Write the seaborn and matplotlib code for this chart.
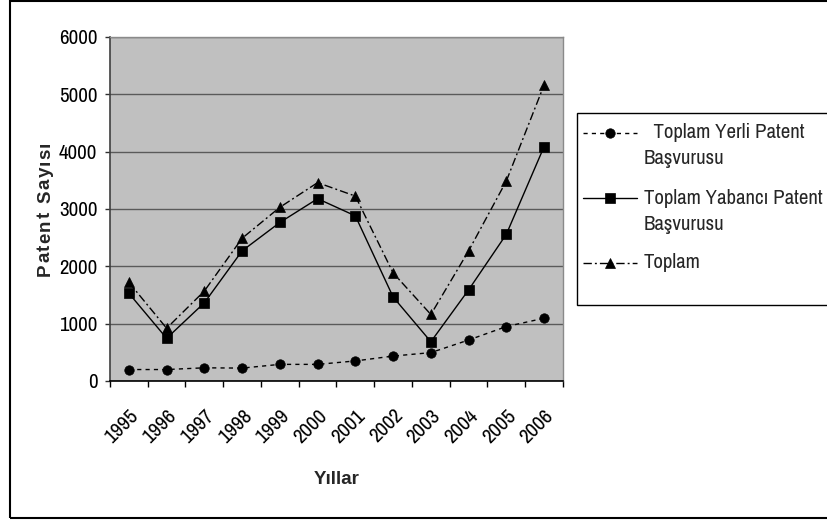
import matplotlib
matplotlib.use("Agg")
import numpy as np
import pandas as pd
import seaborn as sns
import matplotlib.pyplot as plt
from matplotlib import font_manager
from matplotlib.lines import Line2D
from matplotlib.patches import Rectangle

# Patent applications per year
years = ["1995", "1996", "1997", "1998", "1999", "2000",
         "2001", "2002", "2003", "2004", "2005", "2006"]
yerli = [200, 200, 230, 225, 290, 290, 350, 435, 495, 715, 950, 1095]
yabanci = [1530, 745, 1365, 2270, 2765, 3180, 2880, 1465, 685, 1590, 2560, 4090]
toplam = [1720, 920, 1570, 2490, 3030, 3460, 3225, 1885, 1160, 2270, 3490, 5165]

legend_lines = [["  Toplam Yerli Patent", "Başvurusu"],
                ["Toplam Yabancı Patent", "Başvurusu"],
                ["Toplam"]]
y_ticks = [0, 1000, 2000, 3000, 4000, 5000, 6000]

sns.set_theme(style="white")


def pick_narrow_font():
    """Return (family, stretch) of an installed narrow sans face, if any."""
    for f in font_manager.fontManager.ttflist:
        if "narrow" in f.name.lower():
            return f.name, "normal"
    for f in font_manager.fontManager.ttflist:
        st = str(f.stretch).lower()
        if "condensed" in st and ("liberation" in f.name.lower() or "dejavu" in f.name.lower()
                                  or "noto" in f.name.lower()):
            return f.name, f.stretch
    return None, None


narrow_name, narrow_stretch = pick_narrow_font()
if narrow_name:
    FONT, STRETCH, SCALE = narrow_name, narrow_stretch, 1.0
else:
    FONT, STRETCH, SCALE = "Liberation Sans", "normal", 0.84
plt.rcParams["font.family"] = [FONT, "DejaVu Sans"]
plt.rcParams["font.stretch"] = STRETCH

# bold titles use the regular-width face
BOLD_FAMILY = ["Liberation Sans", "DejaVu Sans"]
BOLD_SIZE = 13.5

W, H = 827, 520
fig = plt.figure(figsize=(W / 100, H / 100), dpi=100)
fig.patch.set_facecolor("white")


def fx(px):
    return px / W


def fy(py):
    return 1 - py / H


# plot area in pixel coordinates
L, R, T, B = 110, 563, 37, 381
ax = fig.add_axes([fx(L), fy(B), fx(R - L), (B - T) / H])
ax.set_facecolor("#C0C0C0")

pos = np.arange(len(years))
df = pd.DataFrame({"pos": pos, "yerli": yerli, "yabanci": yabanci, "toplam": toplam})

DOTTED = (0, (3, 3))
DASHDOT = (0, (6, 2.2, 1.4, 2.2))
line_kw = dict(color="black", lw=1.0, markeredgecolor="black", markeredgewidth=0.5)
sns.lineplot(data=df, x="pos", y="yerli", ax=ax, marker="o", markersize=6.8,
             linestyle=DOTTED, **line_kw)
sns.lineplot(data=df, x="pos", y="yabanci", ax=ax, marker="s", markersize=6.5,
             **line_kw)
sns.lineplot(data=df, x="pos", y="toplam", ax=ax, marker="^", markersize=7.5,
             linestyle=DASHDOT, **line_kw)

ax.set_xlim(-0.5, len(years) - 0.5)
ax.set_ylim(0, 6000)

TS = 15 * SCALE
# y axis
ax.set_yticks(y_ticks)
ax.set_yticklabels([str(v) for v in y_ticks], fontsize=TS, color="black")
ax.tick_params(axis="y", direction="out", length=3.6, width=1.0, color="#303030",
               pad=5.5, left=True)
ax.yaxis.grid(True, color="#5a5a5a", lw=1.0)
ax.xaxis.grid(False)

# x axis: labels at category centres, tick marks at boundaries
ax.set_xticks(pos)
ax.set_xticklabels(years, rotation=45, ha="right", va="top",
                   rotation_mode="anchor", fontsize=TS, color="black")
ax.tick_params(axis="x", which="major", length=0, pad=18)
ax.set_xticks(np.arange(-0.5, len(years), 1.0), minor=True)
ax.tick_params(axis="x", which="minor", direction="out", length=4.5, width=1.0,
               color="black", bottom=True)

ax.set_xlabel("")
ax.set_ylabel("")
for side in ["top", "right"]:
    ax.spines[side].set_color("#8a8a8a")
    ax.spines[side].set_linewidth(1.0)
ax.spines["left"].set_color("#404040")
ax.spines["left"].set_linewidth(1.2)
ax.spines["bottom"].set_color("black")
ax.spines["bottom"].set_linewidth(1.2)
ax.set_axisbelow(True)

# axis titles
fig.text(fx(337), fy(480), "Yıllar", ha="center", va="center",
         fontsize=BOLD_SIZE, fontweight="bold", family=BOLD_FAMILY)

ylab = "Patent Sayısı"
renderer = fig.canvas.get_renderer()
widths = []
for ch in ylab:
    t = fig.text(0, 0, ch, fontsize=BOLD_SIZE, fontweight="bold", family=BOLD_FAMILY)
    widths.append(t.get_window_extent(renderer).width)
    t.remove()
span = 135.0
gap = max(0.0, (span - sum(widths)) / (len(ylab) - 1))
ycur = (T + B) / 2 + span / 2  # bottom of label (pixels from top)
for ch, w in zip(ylab, widths):
    cy = ycur - w / 2
    fig.text(fx(50), fy(cy), ch, rotation=90, rotation_mode="anchor",
             ha="center", va="baseline", fontsize=BOLD_SIZE, fontweight="bold",
             family=BOLD_FAMILY)
    ycur -= w + gap

# legend box (runs past the right edge of the canvas)
lx0, ly0, ly1 = 577, 113, 305
fig.patches.append(Rectangle((fx(lx0), fy(ly1)), fx(W + 20 - lx0), (ly1 - ly0) / H,
                             transform=fig.transFigure, facecolor="white",
                             edgecolor="black", lw=1.0, clip_on=False))
entries = [(133, DOTTED, "o", 6.8), (198, "-", "s", 6.5), (263, DASHDOT, "^", 7.5)]
for (yy, ls, mk, ms), lines in zip(entries, legend_lines):
    fig.lines.append(Line2D([fx(583), fx(637)], [fy(yy), fy(yy)], color="black",
                            lw=1.0, linestyle=ls, transform=fig.transFigure))
    fig.lines.append(Line2D([fx(610)], [fy(yy)], color="black", marker=mk,
                            markersize=ms, markeredgewidth=0.5, linestyle="none",
                            transform=fig.transFigure))
    for i, s in enumerate(lines):
        fig.text(fx(644), fy(yy + i * 26), s, ha="left", va="center", fontsize=TS)

# outer frame (right side lies beyond the canvas)
fig.patches.append(Rectangle((fx(10), fy(518)), fx(W + 20 - 10), (518 - 1) / H,
                             transform=fig.transFigure, facecolor="none",
                             edgecolor="black", lw=1.5, clip_on=False))

fig.savefig("out.png", dpi=100)
